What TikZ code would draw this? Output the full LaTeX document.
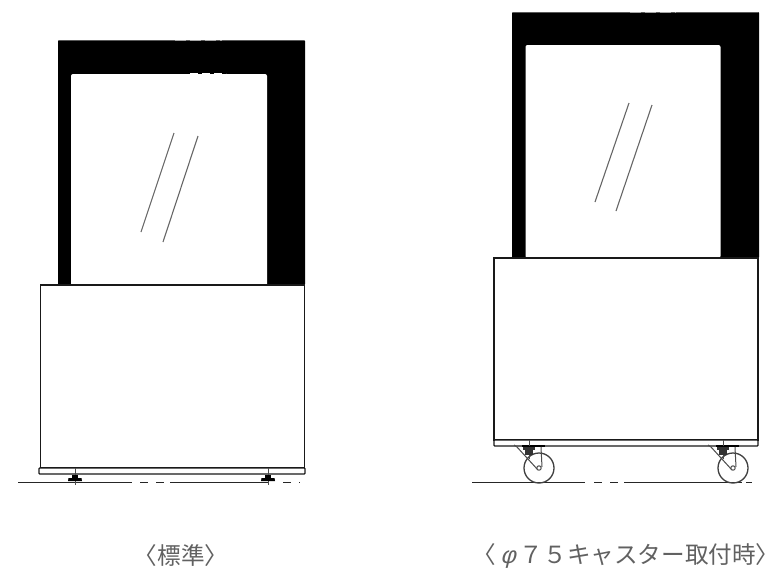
\documentclass[tikz,border=0pt]{standalone}
\usepackage{fontspec}
\newfontfamily\cjk{Noto Sans CJK JP}
\newfontfamily\slantfont{Liberation Sans}[FakeSlant=0.25]
\tikzset{
  ln/.style={draw=black!85,line width=1.3pt},
  thin ln/.style={draw=black!70,line width=1pt},
  base/.style={draw=black!90,line width=1.3pt,fill=white},
  lbl/.style={font=\cjk\fontsize{23.6}{26}\selectfont,text=black!62,inner sep=0pt}
}
\newcommand{\myfoot}[2]{%
  \draw[thin ln] (#1,#2-14) -- (#1,#2+3);
  \fill[black] (#1-3,#2-7) rectangle (#1+3,#2-4);
  \fill[black] (#1-6.5,#2-4) -- (#1+6.5,#2-4) -- (#1+7,#2-1) -- (#1-7,#2-1) -- cycle;
}
\newcommand{\mycaster}[2]{%
  \draw[ln,draw=black!75] (#1,#2) circle (15);
  \fill[black] (#1-17,#2-23) rectangle (#1+6,#2-21);
  \draw[thin ln] (#1-10,#2-28) -- (#1-10,#2-22);
  \fill[black!80] (#1-16,#2-21) rectangle (#1-4,#2-18);
  \fill[black!80] (#1-14,#2-18) rectangle (#1-6,#2-13);
  \draw[thin ln] (#1-10,#2-13) -- (#1-10,#2-9);
  \draw[thin ln] (#1-25,#2-23) -- (#1-22,#2-21) -- (#1-1,#2+2);
  \draw[thin ln] (#1+2,#2-21) -- (#1+3,#2-1);
  \draw[thin ln,fill=white] (#1,#2) circle (2.2);
}
\begin{document}
\begin{tikzpicture}[x=1pt,y=-1pt]
\useasboundingbox[fill=white] (0,0) rectangle (780,574);
% left unit
\fill[black,rounded corners=1pt] (58,40) rectangle (305,285);
\draw[black!65,line width=1.2pt] (59,40.5) -- (304,40.5);
\draw[black!35,line width=1.2pt,dash pattern=on 11pt off 4pt] (175,40.5) -- (222,40.5);
\node[draw=none,fill=white,rounded corners=2pt,minimum width=196pt,minimum height=212pt,inner sep=0pt] (winL) at (169,180) {};
\draw[white,line width=1.2pt,dash pattern=on 8pt off 4pt] (190,73.5) -- (226,73.5);
\draw[black!60,line width=1.1pt] (174,133) -- (141,232);
\draw[black!60,line width=1.1pt] (198,136) -- (163,242);
\node[base,minimum width=264pt,minimum height=183pt,inner sep=0pt] (boxL) at (172.5,376.5) {};
\node[base,minimum width=266pt,minimum height=6pt,inner sep=0pt,rounded corners=0.8pt] (baseL) at (172,471) {};
\draw[ln] (18,482.5) -- (132,482.5);
\draw[ln,dash pattern=on 8pt off 8pt] (140,482.5) -- (165,482.5);
\draw[ln] (170,482.5) -- (268,482.5);
\draw[ln,dash pattern=on 8pt off 8pt] (283,482.5) -- (300,482.5);
\myfoot{75}{482}
\myfoot{268}{482}
% right unit
\fill[black,rounded corners=1pt] (512,12) rectangle (759,258);
\draw[black!65,line width=1.2pt] (513,12.5) -- (758,12.5);
\draw[black!35,line width=1.2pt,dash pattern=on 11pt off 4pt] (630,12.5) -- (676,12.5);
\node[draw=none,fill=white,rounded corners=2pt,minimum width=195pt,minimum height=213pt,inner sep=0pt] (winR) at (623,151.5) {};
\draw[white,line width=1.2pt,dash pattern=on 8pt off 4pt] (644,45.5) -- (680,45.5);
\draw[black!60,line width=1.1pt] (629,103) -- (595,202);
\draw[black!60,line width=1.1pt] (652,105) -- (616,211);
\node[base,minimum width=264pt,minimum height=182pt,inner sep=0pt] (boxR) at (626,349) {};
\node[base,minimum width=264pt,minimum height=6pt,inner sep=0pt,rounded corners=0.8pt] (baseR) at (626,443) {};
\draw[ln] (472,482.5) -- (585,482.5);
\draw[ln,dash pattern=on 8pt off 8pt] (594,482.5) -- (618,482.5);
\draw[ln] (624,482.5) -- (742,482.5);
\draw[ln] (746,482.5) -- (752,482.5);
\mycaster{539}{468}
\mycaster{733}{468}
% labels
\node[lbl,anchor=center] (capL) at (181,556) {〈標準〉};
\node[lbl,anchor=west] (capR) at (472.5,556) {〈\makebox[1em]{\slantfont φ}７５キャスター取付時〉};
\end{tikzpicture}
\end{document}
